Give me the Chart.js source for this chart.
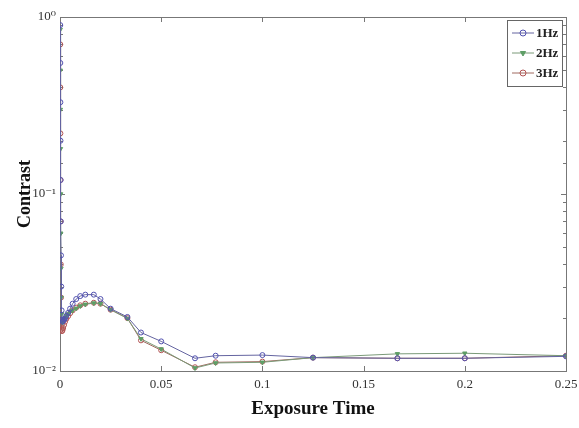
<!DOCTYPE html>
<html>
<head>
<meta charset="utf-8">
<script src="https://cdn.jsdelivr.net/npm/chart.js@4"></script>
<style>
  html, body { margin: 0; padding: 0; background: #fff; }
  #wrap { width: 579px; height: 428px; }
</style>
</head>
<body>
<div id="wrap"><canvas id="myChart" width="579" height="428"></canvas></div>
<script>
// exposure times (s)
const times = [0.000125, 0.00016, 0.0002, 0.00025, 0.0003125, 0.0004, 0.0005, 0.000625, 0.0008, 0.001,
  0.00125, 0.0015625, 0.002, 0.0025, 0.003125, 0.004, 0.005, 0.00625, 0.008, 0.01,
  0.0125, 0.0167, 0.02, 0.025, 0.0333, 0.04, 0.05, 0.0667, 0.0769, 0.1,
  0.125, 0.1667, 0.2, 0.25];

const contrast1Hz = [0.9, 0.55, 0.33, 0.2, 0.12, 0.07, 0.045, 0.03, 0.022, 0.0195,
  0.019, 0.0192, 0.0195, 0.0198, 0.0205, 0.0213, 0.0225, 0.024, 0.0255, 0.0265,
  0.027, 0.027, 0.0255, 0.0225, 0.0202, 0.0165, 0.0147, 0.0118, 0.0122, 0.0123,
  0.0119, 0.0118, 0.0118, 0.0121];

const contrast2Hz = [0.85, 0.5, 0.3, 0.18, 0.1, 0.06, 0.038, 0.026, 0.021, 0.019,
  0.0188, 0.019, 0.0195, 0.02, 0.0205, 0.021, 0.0216, 0.022, 0.0226, 0.0233,
  0.0238, 0.0242, 0.024, 0.0222, 0.0198, 0.0152, 0.0133, 0.0104, 0.0111, 0.0112,
  0.0119, 0.0125, 0.0126, 0.0122];

const contrast3Hz = [0.7, 0.4, 0.22, 0.12, 0.07, 0.04, 0.026, 0.019, 0.0172, 0.0168,
  0.017, 0.0175, 0.0182, 0.019, 0.0197, 0.0204, 0.0212, 0.022, 0.0228, 0.0235,
  0.024, 0.0243, 0.024, 0.0222, 0.0199, 0.0149, 0.0131, 0.0105, 0.0112, 0.0113,
  0.0119, 0.0118, 0.0118, 0.0122];

const seriesLabels = ['1Hz', '2Hz', '3Hz'];
const xTickLabels = { 0: '0', 0.05: '0.05', 0.1: '0.1', 0.15: '0.15', 0.2: '0.2', 0.25: '0.25' };
const yTickLabels = { 0.01: '10\u207B\u00B2', 0.1: '10\u207B\u00B9', 1: '10\u2070' };

const serif = '"Liberation Serif", "DejaVu Serif", serif';
const colors = ['#5252b0', '#5e9e66', '#b25454'];
const lineColors = ['#6464a0', '#7a9a78', '#a06a60'];

const toPoints = vals => times.map((t, i) => ({ x: t, y: vals[i] }));

// frame + inside tick marks (under the data) and legend (on top), MATLAB style
const framePlugin = {
  id: 'frame',
  beforeDatasetsDraw(chart) {
    const { ctx, chartArea: a, scales } = chart;
    ctx.save();
    ctx.strokeStyle = '#777';
    ctx.lineWidth = 1;
    ctx.strokeRect(a.left + 0.5, a.top + 0.5, a.right - a.left, a.bottom - a.top);
    ctx.beginPath();
    scales.y.ticks.forEach(t => {
      const py = Math.round(scales.y.getPixelForValue(t.value)) + 0.5;
      const len = yTickLabels[t.value] ? 5 : 3;
      ctx.moveTo(a.left, py); ctx.lineTo(a.left + len, py);
      ctx.moveTo(a.right, py); ctx.lineTo(a.right - len, py);
    });
    scales.x.ticks.forEach(t => {
      const px = Math.round(scales.x.getPixelForValue(t.value)) + 0.5;
      ctx.moveTo(px, a.bottom); ctx.lineTo(px, a.bottom - 5);
      ctx.moveTo(px, a.top); ctx.lineTo(px, a.top + 5);
    });
    ctx.stroke();
    ctx.restore();
  },
  afterDraw(chart) {
    const { ctx, chartArea: a } = chart;
    ctx.save();
    const bx = a.right - 59, by = a.top + 3, bw = 55, bh = 66;
    ctx.fillStyle = '#fff';
    ctx.fillRect(bx, by, bw, bh);
    ctx.strokeStyle = '#666';
    ctx.lineWidth = 1;
    ctx.strokeRect(bx + 0.5, by + 0.5, bw, bh);
    ctx.font = 'bold 13px ' + serif;
    ctx.textBaseline = 'middle';
    chart.data.datasets.forEach((ds, i) => {
      const ly = by + 13 + i * 20;
      ctx.strokeStyle = ds.borderColor;
      ctx.beginPath();
      ctx.moveTo(bx + 5, ly); ctx.lineTo(bx + 27, ly);
      ctx.stroke();
      ctx.strokeStyle = ds.pointBorderColor;
      ctx.fillStyle = ds.pointBackgroundColor;
      Chart.helpers.drawPoint(ctx, {
        pointStyle: ds.pointStyle, rotation: ds.pointRotation || 0,
        radius: 3, borderWidth: 1
      }, bx + 16, ly);
      ctx.fillStyle = '#222';
      ctx.fillText(ds.label, bx + 29, ly + 1);
    });
    ctx.restore();
  }
};

new Chart(document.getElementById('myChart'), {
  type: 'line',
  data: {
    datasets: [
      {
        label: seriesLabels[0], data: toPoints(contrast1Hz),
        borderColor: lineColors[0], borderWidth: 1,
        pointStyle: 'circle', pointRadius: 2.5,
        pointBorderColor: colors[0], pointBackgroundColor: 'rgba(255,255,255,0)', pointBorderWidth: 1
      },
      {
        label: seriesLabels[1], data: toPoints(contrast2Hz),
        borderColor: lineColors[1], borderWidth: 1,
        pointStyle: 'triangle', pointRotation: 180, pointRadius: 2.5,
        pointBorderColor: colors[1], pointBackgroundColor: colors[1], pointBorderWidth: 1
      },
      {
        label: seriesLabels[2], data: toPoints(contrast3Hz),
        borderColor: lineColors[2], borderWidth: 1,
        pointStyle: 'circle', pointRadius: 2.5,
        pointBorderColor: colors[2], pointBackgroundColor: 'rgba(255,255,255,0)', pointBorderWidth: 1
      }
    ]
  },
  options: {
    responsive: false,
    animation: false,
    layout: { padding: { top: 17, right: 13, left: 11, bottom: 4 } },
    plugins: {
      legend: { display: false },
      tooltip: { enabled: false }
    },
    scales: {
      x: {
        type: 'linear', min: 0, max: 0.25,
        border: { display: false },
        grid: { display: false, drawTicks: false },
        afterBuildTicks: s => { s.ticks = Object.keys(xTickLabels).map(v => ({ value: +v })); },
        afterFit: s => { s.height = 53; s.paddingLeft = 0; s.paddingRight = 0; },
        ticks: {
          callback: v => xTickLabels[v] ?? '',
          color: '#333', padding: 6, maxRotation: 0,
          font: { family: serif, size: 13 }
        },
        title: {
          display: true, text: 'Exposure Time', color: '#111',
          font: { family: serif, size: 19, weight: 'bold' }, padding: { top: 3 }
        }
      },
      y: {
        type: 'logarithmic', min: 0.01, max: 1,
        border: { display: false },
        grid: { display: false, drawTicks: false },
        afterFit: s => { s.width = 49; s.paddingTop = 0; s.paddingBottom = 0; },
        ticks: {
          autoSkip: false,
          callback: v => yTickLabels[v] ?? '',
          color: '#333', padding: 4,
          font: { family: serif, size: 13 }
        },
        title: {
          display: true, text: 'Contrast', color: '#111',
          font: { family: serif, size: 18, weight: 'bold' }, padding: { bottom: 2 }
        }
      }
    }
  },
  plugins: [framePlugin]
});
</script>
</body>
</html>
